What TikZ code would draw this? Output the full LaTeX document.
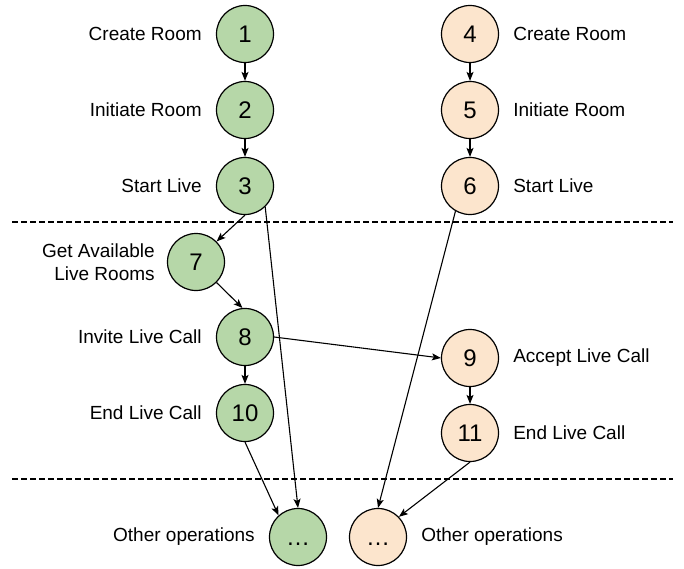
\documentclass[tikz,border=0pt]{standalone}
\usepackage{fontspec}
\setmainfont{Liberation Sans}
\usetikzlibrary{arrows.meta}
\definecolor{gfill}{HTML}{B6D7A8}
\definecolor{ofill}{HTML}{FCE5CD}
\begin{document}
\begin{tikzpicture}[x=1pt,y=-1pt,
  st/.style={circle,draw=black,line width=1.2pt,minimum size=57pt,inner sep=0pt,font=\fontsize{24}{28}\selectfont},
  gn/.style={st,fill=gfill},
  on/.style={st,fill=ofill},
  lbl/.style={font=\fontsize{19}{22.5}\selectfont,inner sep=0pt},
  ll/.style={lbl,anchor=east,xshift=-14pt},
  rl/.style={lbl,anchor=west,xshift=14pt},
  arr/.style={-{Stealth[length=9pt,width=7pt,inset=2pt]},line width=1.1pt},
  sep/.style={dash pattern=on 6pt off 3pt,line width=1.1pt}]
\useasboundingbox (0,0) rectangle (684,569);
% separators
\coordinate (s1a) at (12,222); \coordinate (s1b) at (673,222);
\coordinate (s2a) at (12,479); \coordinate (s2b) at (673,479);
\draw[sep] (s1a) -- (s1b);
\draw[sep] (s2a) -- (s2b);
% green nodes
\node[gn] (n1) at (245,34) {1};
\node[gn] (n2) at (245,110) {2};
\node[gn] (n3) at (245,186) {3};
\node[gn] (n7) at (196,262) {7};
\node[gn] (n8) at (245,337) {8};
\node[gn] (n10) at (245,413) {10};
\node[gn] (ng) at (298,537) {\vphantom{1}…};
% orange nodes
\node[on] (n4) at (470,34) {4};
\node[on] (n5) at (470,110) {5};
\node[on] (n6) at (470,186) {6};
\node[on] (n9) at (470,358) {9};
\node[on] (n11) at (470,433) {11};
\node[on] (no) at (378,537) {\vphantom{1}…};
% labels
\node[ll] (l1) at (n1.west) {Create Room};
\node[ll] (l2) at (n2.west) {Initiate Room};
\node[ll] (l3) at (n3.west) {Start Live};
\node[ll,align=right,xshift=2pt] (l7) at (n7.west) {Get Available\\Live Rooms};
\node[ll] (l8) at (n8.west) {Invite Live Call};
\node[ll] (l10) at (n10.west) {End Live Call};
\node[ll] (lg) at (ng.west) {Other operations};
\node[rl] (l4) at (n4.east) {Create Room};
\node[rl] (l5) at (n5.east) {Initiate Room};
\node[rl] (l6) at (n6.east) {Start Live};
\node[rl] (l9) at (n9.east) {Accept Live Call};
\node[rl] (l11) at (n11.east) {End Live Call};
\node[rl] (lo) at (no.east) {Other operations};
% arrows
\draw[arr] (n1.south) -- (n2.north);
\draw[arr] (n2.south) -- (n3.north);
\draw[arr] (n4.south) -- (n5.north);
\draw[arr] (n5.south) -- (n6.north);
\draw[arr] (n3.south) -- (n7.45);
\draw[arr] (n7.-45) -- (n8.95);
\draw[arr] (n8.south) -- (n10.north);
\draw[arr] (n8.east) -- (n9.west);
\draw[arr] (n9.south) -- (n11.north);
\draw[arr] (n3.-46) -- (ng.north);
\draw[arr] (n10.south) -- (ng.132);
\draw[arr] (n6.-120) -- (no.north);
\draw[arr] (n11.south) -- (no.44);
\end{tikzpicture}
\end{document}
